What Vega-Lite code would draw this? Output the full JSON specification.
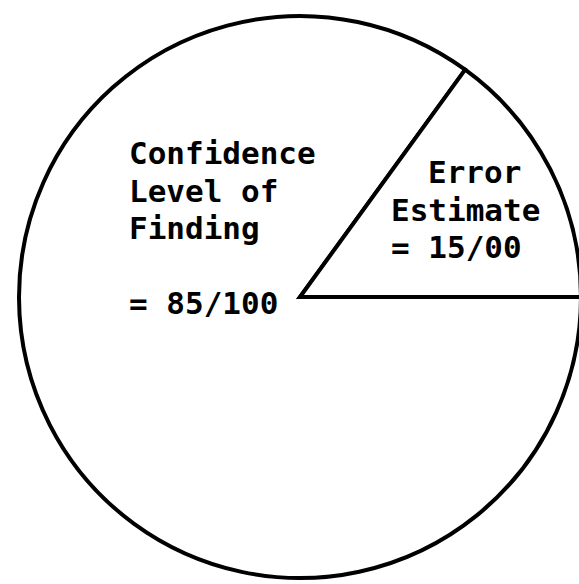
{
  "$schema": "https://vega.github.io/schema/vega-lite/v6.json",
  "width": 558,
  "height": 574,
  "autosize": "none",
  "padding": {"left": 21, "top": 10, "right": 0, "bottom": 0},
  "background": "white",
  "config": {"view": {"stroke": null}},
  "data": {
    "values": [
      {"category": "Confidence Level of Finding", "value": 85, "title": "Confidence\nLevel of\nFinding", "ratio": "= 85/100"},
      {"category": "Error Estimate", "value": 15, "title": "Error", "ratio": "Estimate\n= 15/00"}
    ]
  },
  "layer": [
    {
      "mark": {"type": "arc", "radius": 281, "fill": "white", "stroke": "black", "strokeWidth": 4},
      "encoding": {
        "theta": {"field": "value", "type": "quantitative", "stack": true, "scale": {"range": [1.5708, 7.854]}},
        "order": {"field": "value", "type": "quantitative", "sort": "descending"}
      }
    },
    {
      "transform": [{"filter": "datum.category === 'Confidence Level of Finding'"}],
      "mark": {"type": "text", "font": "DejaVu Sans Mono", "fontWeight": "bold", "fontSize": 31, "align": "left", "baseline": "alphabetic", "lineBreak": "\n", "lineHeight": 37.5, "dx": -171, "dy": -133, "color": "black"},
      "encoding": {"text": {"field": "title"}}
    },
    {
      "transform": [{"filter": "datum.category === 'Confidence Level of Finding'"}],
      "mark": {"type": "text", "font": "DejaVu Sans Mono", "fontWeight": "bold", "fontSize": 31, "align": "left", "baseline": "alphabetic", "lineBreak": "\n", "lineHeight": 37.5, "dx": -171, "dy": 17, "color": "black"},
      "encoding": {"text": {"field": "ratio"}}
    },
    {
      "transform": [{"filter": "datum.category === 'Error Estimate'"}],
      "mark": {"type": "text", "font": "DejaVu Sans Mono", "fontWeight": "bold", "fontSize": 31, "align": "left", "baseline": "alphabetic", "lineBreak": "\n", "lineHeight": 37.5, "dx": 128, "dy": -114, "color": "black"},
      "encoding": {"text": {"field": "title"}}
    },
    {
      "transform": [{"filter": "datum.category === 'Error Estimate'"}],
      "mark": {"type": "text", "font": "DejaVu Sans Mono", "fontWeight": "bold", "fontSize": 31, "align": "left", "baseline": "alphabetic", "lineBreak": "\n", "lineHeight": 37.5, "dx": 91, "dy": -76.5, "color": "black"},
      "encoding": {"text": {"field": "ratio"}}
    }
  ]
}
